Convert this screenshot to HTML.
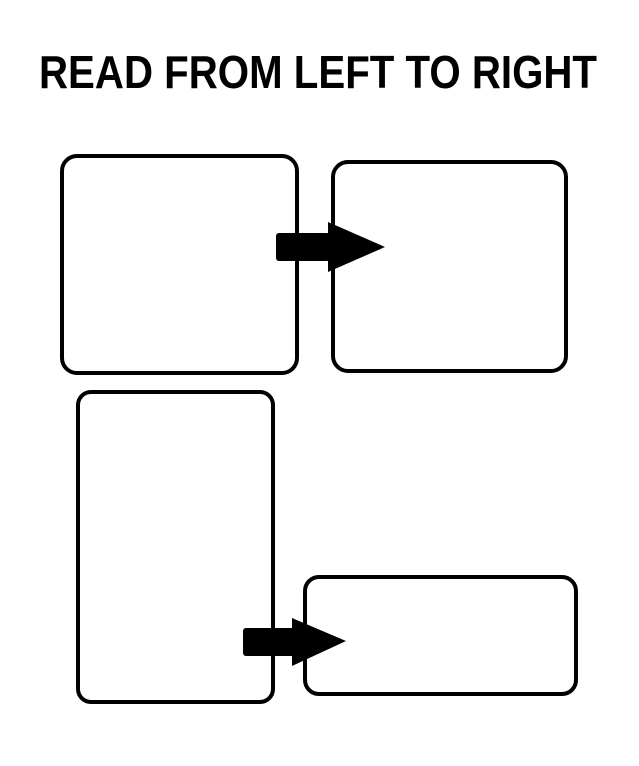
<!DOCTYPE html>
<html><head><style>html,body{margin:0;padding:0;background:#fff;width:639px;height:766px;overflow:hidden}</style></head>
<body>
<svg width="639" height="766" xmlns="http://www.w3.org/2000/svg">
<text x="318" y="88" text-anchor="middle" font-family="Liberation Sans, sans-serif" font-weight="bold" font-size="46" textLength="558" lengthAdjust="spacingAndGlyphs" fill="#000">READ FROM LEFT TO RIGHT</text>
<g fill="none" stroke="#000" stroke-width="4">
<rect x="62" y="156" width="235" height="217" rx="15"/>
<rect x="333" y="162" width="233" height="209" rx="15"/>
<rect x="78" y="392" width="195" height="310" rx="13"/>
<rect x="305" y="577" width="271" height="117" rx="14"/>
</g>
<g fill="#000">
<rect x="276" y="233" width="54" height="28" rx="3"/>
<polygon points="328,222 385,247 328,272"/>
<rect x="243" y="628" width="52" height="28" rx="3"/>
<polygon points="292,618 346,641 292,666"/>
</g>
</svg>
</body></html>
